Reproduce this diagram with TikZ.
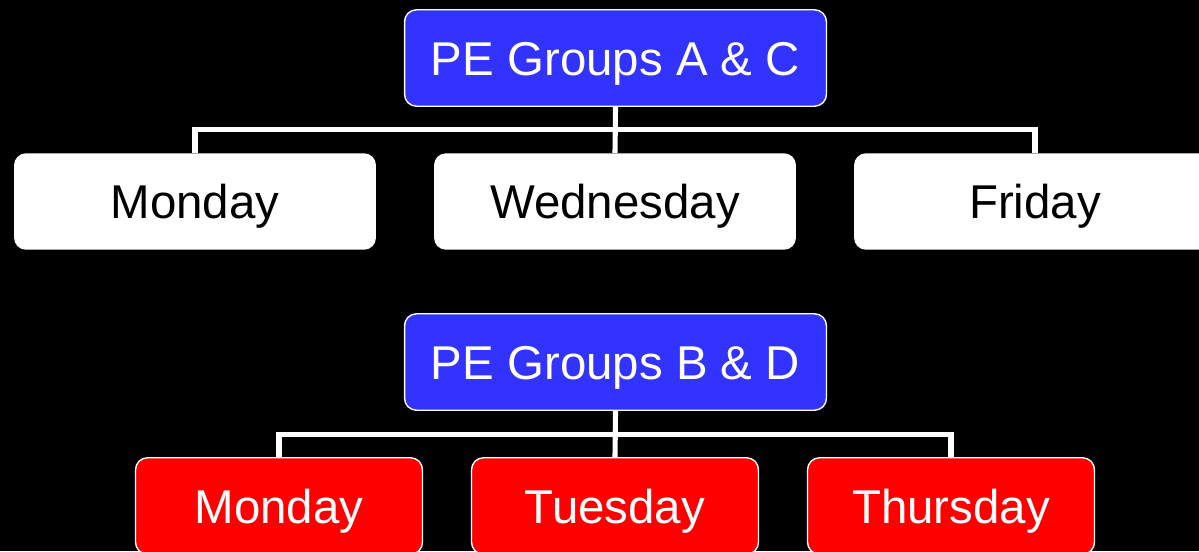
\documentclass[tikz,border=0pt]{standalone}
\usepackage{fontspec}
\setmainfont{Liberation Sans}
\usepackage{xcolor}
\definecolor{groupblue}{RGB}{51,51,255}
\definecolor{dayred}{RGB}{255,0,0}
\tikzset{
  basebox/.style={rounded corners=0.24cm, align=center, inner sep=0pt,
    minimum height=1.93cm, text height=19.4pt, text depth=0pt,
    font=\fontsize{27}{32}\selectfont},
  groupbox/.style={basebox, fill=groupblue, draw=white, line width=0.8pt,
    text=white, minimum width=8.44cm},
  daybox/.style={basebox, fill=white, text=black, minimum width=7.24cm},
  redbox/.style={basebox, fill=dayred, draw=white, line width=0.8pt,
    text=white, minimum width=5.74cm},
  link/.style={draw=white, line width=2.9pt}
}
\begin{document}
\begin{tikzpicture}[x=0.02cm, y=-0.02cm]
    \useasboundingbox (0,0) rectangle (1199,551);
    \fill[black] (0,0) rectangle (1199,551);

    % groups A and C
    \node[groupbox] at (615.5,58) (ac){PE Groups A \& C};
    \node[daybox] at (195,201.5) (mon1){Monday};
    \node[daybox] at (615,201.5) (wed1){Wednesday};
    \node[daybox] at (1035,201.5) (fri1){Friday};

    \coordinate (busAC) at (615,129.5);
    \draw[link] (ac.south) -- (wed1.north);
    \draw[link] (mon1.north) |- (busAC) -| (fri1.north);

    % groups B and D
    \node[groupbox] at (615.5,362) (bd){PE Groups B \& D};
    \node[redbox] at (279,506) (mon2){Monday};
    \node[redbox] at (615,506) (tue2){Tuesday};
    \node[redbox] at (951,506) (thu2){Thursday};

    \coordinate (busBD) at (615,434.5);
    \draw[link] (bd.south) -- (tue2.north);
    \draw[link] (mon2.north) |- (busBD) -| (thu2.north);
\end{tikzpicture}
\end{document}
